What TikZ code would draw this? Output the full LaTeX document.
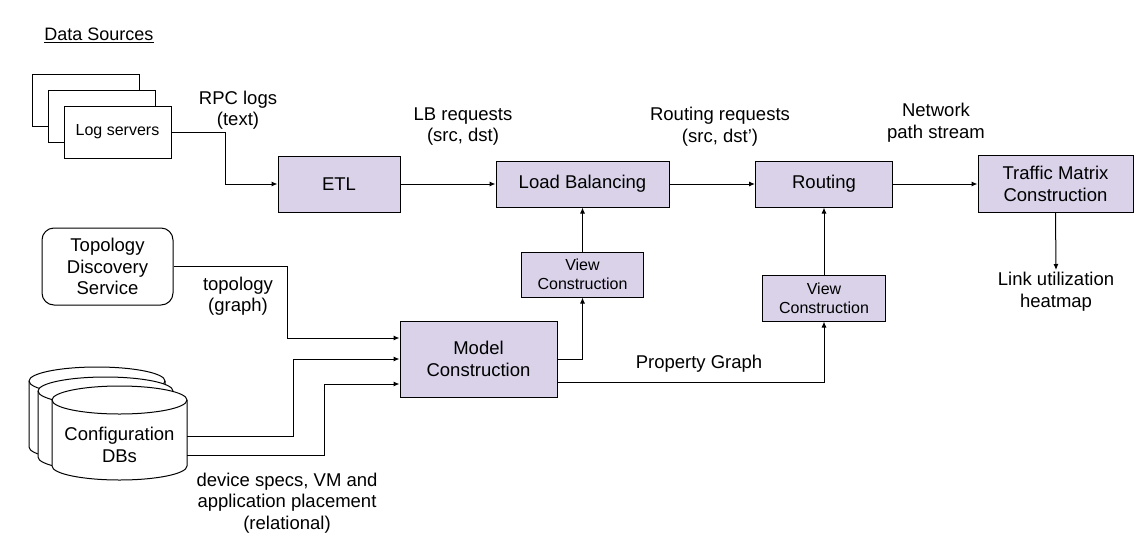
\documentclass[tikz,border=0pt]{standalone}
\usepackage{fontspec}
\setmainfont{Liberation Sans}
\usepackage{tikz}
\usetikzlibrary{positioning, arrows.meta}
\definecolor{lavender}{HTML}{D9D2E9}
\tikzset{
    stage/.style={draw=black, line width=1pt, fill=lavender, align=center, inner sep=0pt, font=\fontsize{18.5}{21.5}\selectfont},
    substage/.style={draw=black, line width=1pt, fill=lavender, align=center, inner sep=0pt, font=\fontsize{16}{19}\selectfont},
    source/.style={draw=black, line width=1pt, fill=white, align=center, inner sep=0pt},
    lbl/.style={align=center, inner sep=2pt, font=\fontsize{18.5}{21.5}\selectfont},
    flow/.style={line width=1pt, -{Latex[length=6pt, width=5pt]}},
}

\begin{document}
\begin{tikzpicture}[x=1pt, y=-1pt]
            \useasboundingbox (0,0) rectangle (1148,541);

            \node[font=\fontsize{18}{21.5}\selectfont] (datasrc) at (99,35) {\underline{Data Sources}};

            \draw[line width=1pt, fill=white] (32,74) rectangle (139,126);
            \draw[line width=1pt, fill=white] (48,90) rectangle (155,142);
            \node[source, minimum width=107pt, minimum height=52pt, font=\fontsize{16}{19}\selectfont] (logs) at (117.5,132) {Log servers};

            \node[source, rounded corners=12pt, minimum width=131pt, minimum height=77pt, font=\fontsize{18.5}{21.5}\selectfont] (tds) at (107.5,266.5) {Topology\\Discovery\\Service};

            \draw[line width=1pt, fill=white] (29,381) -- (29,447) arc[start angle=180, end angle=0, x radius=68, y radius=14] -- (165,381) arc[start angle=0, end angle=-180, x radius=68, y radius=14] -- cycle;
            \draw[line width=1pt] (29,381) arc[start angle=180, end angle=0, x radius=68, y radius=14];
            \draw[line width=1pt, fill=white] (38,391) -- (38,457) arc[start angle=180, end angle=0, x radius=67.5, y radius=14] -- (173,391) arc[start angle=0, end angle=-180, x radius=67.5, y radius=14] -- cycle;
            \draw[line width=1pt] (38,391) arc[start angle=180, end angle=0, x radius=67.5, y radius=14];
            \draw[line width=1pt, fill=white] (52,400) -- (52,466) arc[start angle=180, end angle=0, x radius=67.5, y radius=14] -- (187,400) arc[start angle=0, end angle=-180, x radius=67.5, y radius=14] -- cycle;
            \draw[line width=1pt] (52,400) arc[start angle=180, end angle=0, x radius=67.5, y radius=14];
            \node[minimum width=135pt, minimum height=70pt, inner sep=0pt, align=center, font=\fontsize{18.5}{21.5}\selectfont] (cfg) at (119.5,445) {Configuration\\DBs};

            \node[stage, minimum width=122pt, minimum height=56pt] (etl) at (339,184) {ETL};
            \node[stage, minimum width=173pt, minimum height=46pt] (lb) at (582.5,184) {Load Balancing};
            \node[stage, minimum width=137pt, minimum height=46pt] (rt) at (824,184) {Routing};
            \node[stage, minimum width=155pt, minimum height=57pt] (tm) at (1055.5,184) {Traffic Matrix\\Construction};
            \node[substage, minimum width=122pt, minimum height=45pt] (vc1) at (582.5,274.5) {View\\Construction};
            \node[substage, minimum width=123pt, minimum height=46pt] (vc2) at (824,298) {View\\Construction};
            \node[stage, minimum width=157pt, minimum height=76pt] (mc) at (478.5,359) {Model\\Construction};

            \node[lbl] (rpc) at (238,110) {RPC logs\\(text)};
            \node[lbl] (lbreq) at (463,126.5) {LB requests\\(src, dst)};
            \node[lbl] (rtreq) at (720,126.5) {Routing requests\\(src, dst’)};
            \node[lbl] (netpath) at (936,122.5) {Network\\path stream};
            \node[lbl] (topo) at (238,296) {topology\\(graph)};
            \node[lbl] (devspec) at (287,503) {device specs, VM and\\application placement\\(relational)};
            \node[lbl] (prop) at (699,364) {Property Graph};
            \node[lbl, anchor=north] (heat) at (1056,270) {Link utilization\\heatmap};

            \draw[flow] (logs.east) -| (225,184) -- (etl.west);
            \draw[flow] (etl) -- (lb);
            \draw[flow] (lb) -- (rt);
            \draw[flow] (rt) -- (tm);
            \draw[flow] (tm.south) -- (heat.north);
            \draw[flow] (tds.east) -| (287,338) -- (mc.west |- 0,338);
            \draw[flow] (cfg.east |- 0,436) -| (293,359) -- (mc.west);
            \draw[flow] (cfg.east |- 0,455) -| (324,384) -- (mc.west |- 0,384);
            \draw[flow] (mc.east) -| (vc1.south);
            \draw[flow] (vc1.north) -- (lb.south);
            \draw[flow] (mc.east |- 0,382) -| (vc2.south);
            \draw[flow] (vc2.north) -- (rt.south);
        \end{tikzpicture}
\end{document}
